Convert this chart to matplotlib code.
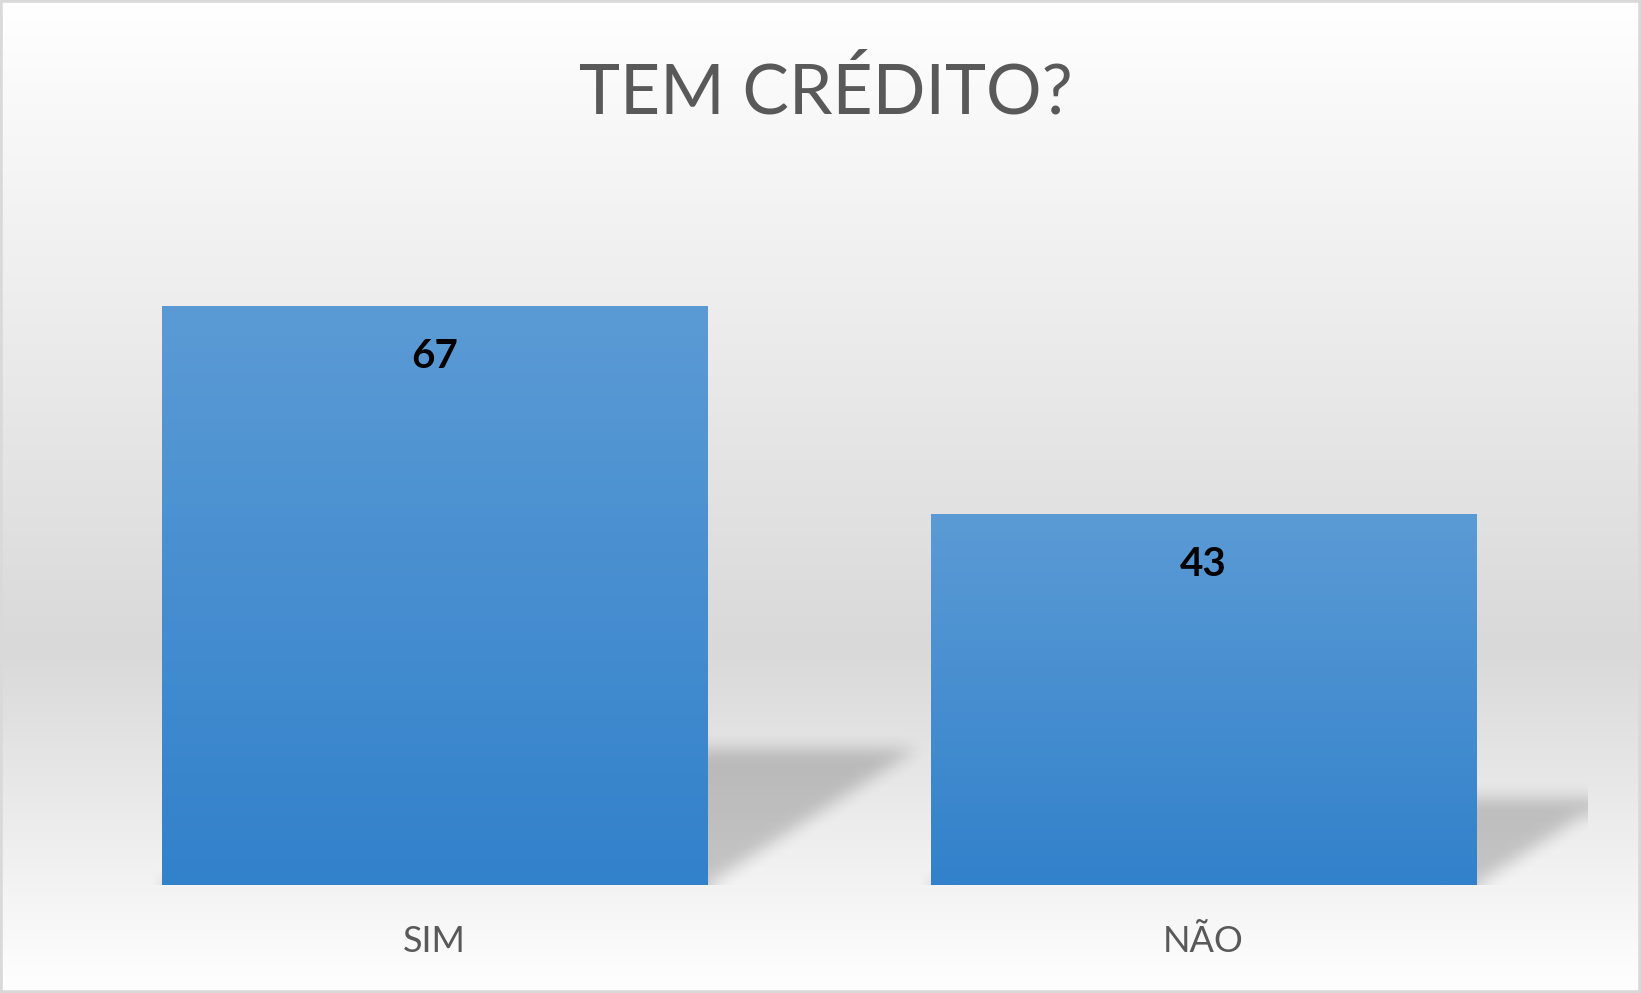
import numpy as np
import matplotlib
matplotlib.use("Agg")
import matplotlib.pyplot as plt
from matplotlib.colors import LinearSegmentedColormap
from matplotlib.patches import Rectangle
from matplotlib.transforms import blended_transform_factory

# data
categories = ["SIM", "NÃO"]
values = [67, 43]
title = "TEM CRÉDITO?"

# style
font = "Lato"
text_gray = "#595959"
bar_top = "#5b9bd5"
bar_bottom = "#3281cb"
bar_width = 0.71
shadow_h = 0.234      # shadow height relative to bar height
shadow_shear = 0.00405  # shift in categories per value unit

W, H, DPI = 1641, 993, 100
fig = plt.figure(figsize=(W / DPI, H / DPI), dpi=DPI)

# background gradient: white -> light gray -> white
bg_ax = fig.add_axes([0, 0, 1, 1], zorder=-10)
bg_ax.axis("off")
ypix = np.arange(H)
stops_y = [0, 650, H]
stops_v = [255, 217, 255]
col = np.interp(ypix, stops_y, stops_v) / 255.0
bg = np.repeat(col[:, None, None], 3, axis=2) * np.ones((1, 2, 3))
bg_ax.imshow(bg, aspect="auto", extent=(0, 1, 0, 1), origin="upper")
bg_ax.set_xlim(0, 1)
bg_ax.set_ylim(0, 1)

# border
fig.patches.append(Rectangle((0, 0), 1, 1, transform=fig.transFigure,
                             fill=False, edgecolor="#d9d9d9", linewidth=4))

ax = fig.add_axes([50 / W, 1 - 885 / H, (1588 - 50) / W, (885 - 194) / H])
ax.set_facecolor("none")
xlim = (-0.5, len(categories) - 0.5)
ylim = (0, 80)

x = np.arange(len(categories))

# blurred perspective shadow behind each bar
sw, sh = 1538, 691
gx = np.linspace(xlim[0], xlim[1], sw)
gy = np.linspace(ylim[0], ylim[1], sh)
XX, YY = np.meshgrid(gx, gy)
mask = np.zeros_like(XX)
for xi, v in zip(x, values):
    top = v * shadow_h
    shift = YY / top * (v * shadow_shear)
    inside = (YY <= top) & (XX >= xi - bar_width / 2 + shift) & (XX <= xi + bar_width / 2 + shift)
    mask[inside] = 1.0


def blur1d(a, r, axis):
    a = np.moveaxis(a, axis, -1)
    pad = np.pad(a, [(0, 0)] * (a.ndim - 1) + [(r + 1, r)], mode="edge")
    c = np.cumsum(pad, axis=-1)
    out = (c[..., 2 * r + 1:] - c[..., :-2 * r - 1]) / (2 * r + 1)
    return np.moveaxis(out, -1, axis)


for _ in range(3):
    mask = blur1d(mask, 7, 0)
    mask = blur1d(mask, 7, 1)

shadow = np.zeros((sh, sw, 4))
shadow[..., 3] = mask * 0.19
ax.imshow(shadow, extent=(*xlim, *ylim), origin="lower", aspect="auto", zorder=1)

# bars with vertical gradient
bars = ax.bar(x, values, width=bar_width, color=bar_top, linewidth=0, zorder=2)
cmap = LinearSegmentedColormap.from_list("barg", [bar_bottom, bar_top])
grad = np.linspace(0, 1, 256)[:, None]
for b in bars:
    im = ax.imshow(grad, cmap=cmap, aspect="auto", origin="lower", zorder=3,
                   extent=(b.get_x(), b.get_x() + b.get_width(), 0, b.get_height()))
    im.set_clip_path(b)

# value labels
for xi, v in zip(x, values):
    ax.annotate(str(v), (xi, v), xytext=(0, -36.5), textcoords="offset points",
                ha="center", va="center", fontsize=29, fontweight="bold",
                family=font, color="black", zorder=5)

ax.set_xlim(*xlim)
ax.set_ylim(*ylim)
ax.set_xticks([])
ax.set_yticks([])
for s in ax.spines.values():
    s.set_visible(False)

# category labels
tr = blended_transform_factory(ax.transData, fig.transFigure)
for xi, c in zip(x, categories):
    ax.text(xi, 1 - 952 / H, c, transform=tr, ha="center", va="baseline",
            fontsize=26, family=font, color=text_gray)

fig.text(826 / W, 1 - 113 / H, title, ha="center", va="baseline",
         fontsize=50, family=font, color=text_gray)

fig.savefig("out.png", dpi=DPI)
